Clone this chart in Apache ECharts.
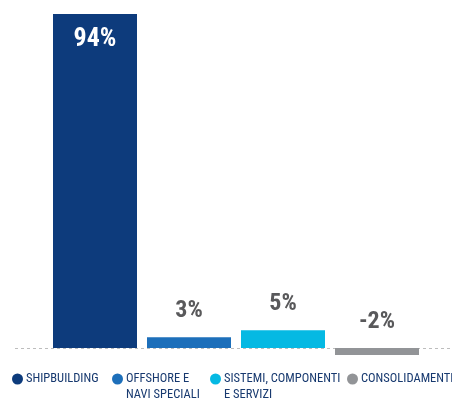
<!DOCTYPE html>
<html>
<head>
<meta charset="utf-8">
<script src="https://cdn.jsdelivr.net/npm/echarts@6/dist/echarts.min.js"></script>
<style>
  html, body { margin: 0; padding: 0; background: #fff; }
  #chart { width: 452px; height: 399px; }
</style>
</head>
<body>
<div id="chart"></div>
<script>
// Share of results by business segment
const categories = ['SHIPBUILDING', 'OFFSHORE E NAVI SPECIALI', 'SISTEMI, COMPONENTI E SERVIZI', 'CONSOLIDAMENTI'];
const legendLabels = ['SHIPBUILDING', 'OFFSHORE E\nNAVI SPECIALI', 'SISTEMI, COMPONENTI\nE SERVIZI', 'CONSOLIDAMENTI'];
const values = [94, 3, 5, -2];
const colors = ['#0d3b7c', '#1d6fba', '#05b9e3', '#929497'];
const legendLefts = [12, 112, 210, 347];

const FONT = '"Roboto Condensed", "Open Sans Condensed", sans-serif';
const LINE_H = 16;
const chart = echarts.init(document.getElementById('chart'), null, { renderer: 'canvas' });

// Legend marker: a dot aligned with the first text line, inside a box as tall as the text block
function markerPath(lines) {
  const h = LINE_H * lines;
  const cy = LINE_H / 2;
  return 'path://M0,0 L11,0 M0,' + h + ' L11,' + h +
    ' M0,' + cy + ' A5.5,5.5 0 1 1 11,' + cy + ' A5.5,5.5 0 1 1 0,' + cy + ' Z';
}

const series = categories.map((name, i) => ({
  name: name,
  type: 'bar',
  stack: 'all',
  barWidth: 84,
  z: 3,
  itemStyle: { color: colors[i] },
  data: categories.map((c, j) => (j === i ? {
    value: values[i],
    label: i === 0 ? {
      show: true, position: 'insideTop', distance: 12,
      color: '#ffffff', fontSize: 26, fontWeight: 'bold', fontFamily: FONT
    } : {
      show: true, position: 'top', distance: 14,
      color: '#59595b', fontSize: 24, fontWeight: 'bold', fontFamily: FONT
    }
  } : null)),
  label: { formatter: p => p.value + '%' }
}));

const legends = categories.map((name, i) => {
  const lines = legendLabels[i].split('\n').length;
  return {
    data: [name],
    left: legendLefts[i],
    top: 371,
    orient: 'horizontal',
    icon: markerPath(lines),
    itemWidth: 11,
    itemHeight: LINE_H * lines,
    itemGap: 0,
    padding: 0,
    itemStyle: { color: colors[i], borderWidth: 0 },
    formatter: () => legendLabels[i],
    selectedMode: false,
    textStyle: {
      color: '#17396f',
      fontFamily: FONT,
      fontSize: 12.5,
      lineHeight: LINE_H,
      padding: [0, 0, 0, -2]
    }
  };
});

chart.setOption({
  animation: false,
  backgroundColor: '#ffffff',
  grid: { left: 48, right: 28, top: 14, bottom: 44 },
  xAxis: {
    type: 'category',
    data: categories,
    axisLine: { show: false },
    axisTick: { show: false },
    axisLabel: { show: false }
  },
  yAxis: {
    type: 'value',
    min: -2,
    max: 94,
    show: false,
    splitLine: { show: false }
  },
  legend: legends,
  series: series
});

// Dashed zero line spanning the width of the page
const zeroY = chart.convertToPixel({ yAxisIndex: 0 }, 0);
chart.setOption({
  graphic: [{
    type: 'line',
    z: 1,
    shape: { x1: 15, y1: Math.round(zeroY) + 0.5, x2: 452, y2: Math.round(zeroY) + 0.5 },
    style: { stroke: '#bdbdbd', lineWidth: 1, lineDash: [3, 3] }
  }]
});
</script>
</body>
</html>
